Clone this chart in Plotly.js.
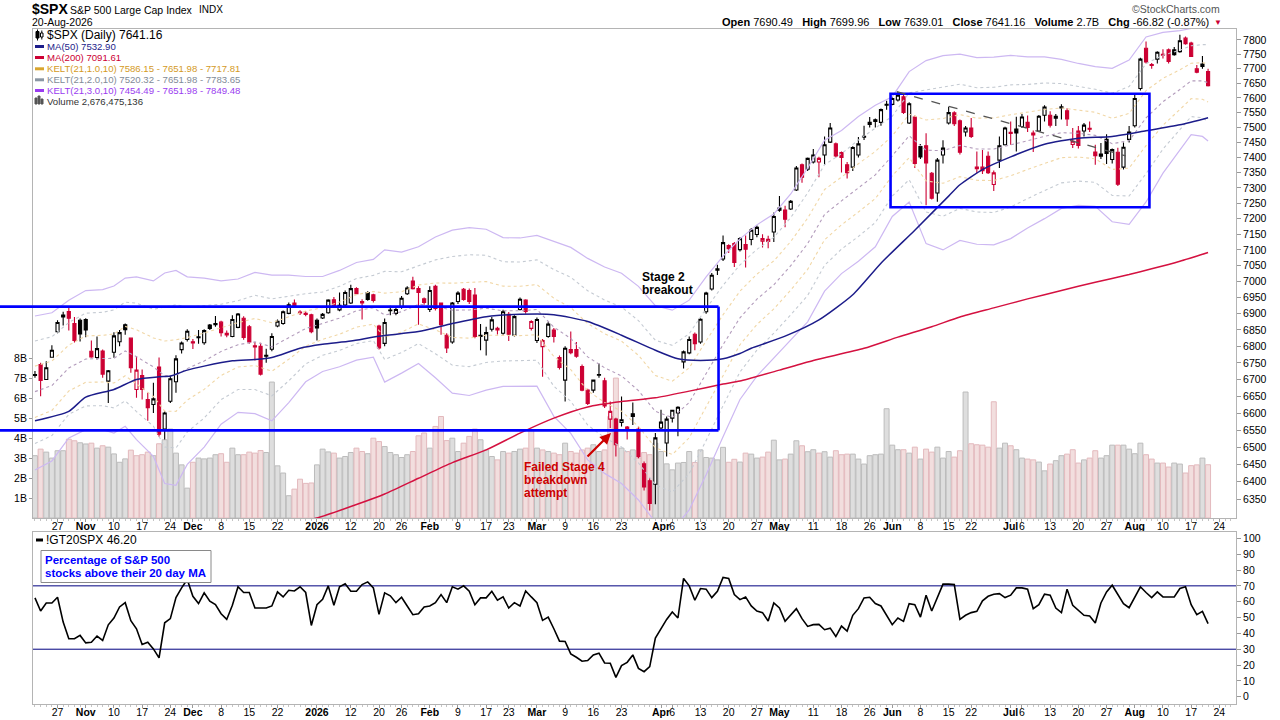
<!DOCTYPE html>
<html>
<head>
<meta charset="utf-8">
<script src="https://cdn.plot.ly/plotly-3.0.1.min.js"></script>
<style>
html,body{margin:0;padding:0;background:#fff;}
#chart{width:1280px;height:720px;}
</style>
</head>
<body>
<div id="chart"></div>
<script>
// ---------------- DATA ----------------
// Daily OHLC of $SPX, one value per trading day from 2025-10-21 to 2026-08-20
const openP = [
6712,6745,6700,6767,6845,6896,6907,6870,6880,6882,
6785,6766,6786,6695,6782,6814,6866,6825,6670,6712,
6640,6625,6737,6553,6635,6693,6790,6821,6814,6826,
6811,6865,6870,6874,6840,6830,6858,6886,6860,6802,
6800,6770,6791,6862,6870,6901,6933,6905,6901,6897,
6880,6887,6903,6943,6912,6927,6933,6978,6938,6966,
6959,6862,6809,6909,6901,6922,6962,7002,6978,6946,
6913,6985,6933,6834,6813,6938,6976,6972,6958,6830,
6819,6852,6855,6840,6898,6834,6913,6942,6855,6818,
6799,6830,6850,6766,6698,6790,6790,6739,6668,6668,
6713,6696,6582,6582,6572,6554,6598,6553,6452,6403,
6393,6556,6512,6585,6600,6753,6780,6837,6813,6906,
6977,7036,7071,7114,7120,7101,7117,7133,7149,7128,
7134,7157,7234,7228,7231,7293,7376,7361,7385,7385,
7408,7451,7445,7416,7376,7368,7408,7467,7510,7526,
7517,7575,7578,7593,7604,7515,7535,7436,7439,7348,
7283,7408,7515,7549,7522,7485,7498,7368,7368,7404,
7311,7391,7442,7484,7495,7503,7517,7475,7488,7541,
7541,7531,7566,7556,7443,7488,7488,7497,7418,7404,
7460,7393,7417,7368,7460,7506,7632,7771,7714,7733,
7750,7765,7765,7759,7806,7789,7700,7716,7690.49];
const highP = [
6725,6750,6755,6803,6880,6906,6919,6890,6885,6886,
6818,6830,6790,6728,6843,6850,6870,6827,6770,6730,
6660,6690,6766,6605,6710,6773,6815,6852,6822,6850,
6852,6868,6893,6878,6848,6895,6902,6892,6865,6813,
6811,6793,6840,6882,6910,6935,6944,6911,6908,6900,
6885,6902,6945,6952,6966,6972,6990,6982,6945,6970,
6962,6866,6885,6925,6920,6955,6985,7015,6985,6950,
6985,6990,6935,6840,6936,6970,6980,6978,6980,6868,
6860,6890,6860,6912,6905,6895,6950,6945,6880,6888,
6822,6875,6856,6772,6800,6845,6813,6745,6672,6700,
6748,6705,6634,6586,6649,6562,6631,6560,6458,6410,
6541,6610,6590,6610,6620,6787,6830,6842,6886,6968,
7027,7053,7146,7118,7125,7140,7146,7170,7178,7150,
7145,7220,7273,7242,7260,7372,7380,7400,7428,7402,
7470,7515,7450,7420,7385,7437,7468,7506,7535,7530,
7564,7590,7602,7621,7610,7585,7540,7445,7481,7352,
7398,7457,7570,7555,7527,7505,7532,7420,7425,7420,
7357,7470,7502,7520,7536,7545,7540,7490,7542,7575,
7555,7545,7578,7565,7498,7505,7515,7520,7442,7448,
7477,7430,7432,7450,7505,7615,7738,7794,7720,7760,
7767,7770,7775,7818,7812,7793,7713,7744,7699.96];
const lowP = [
6705,6650,6698,6765,6840,6864,6848,6812,6815,6828,
6765,6760,6705,6630,6765,6800,6835,6720,6645,6640,
6577,6600,6530,6522,6630,6660,6778,6815,6792,6808,
6805,6850,6860,6830,6828,6828,6855,6820,6808,6757,
6712,6750,6785,6858,6866,6898,6920,6896,6892,6840,
6818,6884,6900,6918,6908,6922,6930,6958,6882,6940,
6935,6790,6800,6895,6895,6915,6958,6975,6866,6928,
6905,6910,6835,6780,6808,6930,6940,6930,6825,6788,
6772,6845,6836,6835,6816,6830,6910,6900,6848,6810,
6708,6826,6812,6730,6634,6776,6765,6665,6624,6660,
6705,6615,6556,6473,6560,6522,6565,6468,6375,6318,
6336,6552,6473,6572,6532,6733,6776,6788,6808,6900,
6972,7021,7065,7090,7046,7095,7044,7115,7140,7108,
7105,7125,7222,7172,7228,7290,7317,7355,7380,7335,
7376,7448,7400,7350,7331,7355,7400,7458,7500,7500,
7506,7560,7575,7588,7545,7512,7365,7395,7243,7262,
7255,7380,7510,7505,7410,7470,7465,7348,7345,7345,
7290,7365,7440,7442,7420,7498,7485,7418,7485,7520,
7500,7505,7527,7505,7431,7430,7470,7485,7376,7395,
7378,7380,7306,7360,7450,7500,7625,7718,7700,7718,
7735,7718,7745,7755,7783,7740,7684,7700,7639.01];
const closeP = [
6715,6697,6735,6788,6873,6890,6886,6818,6838,6850,
6768,6793,6716,6726,6832,6842,6851,6735,6728,6670,
6616,6642,6538,6600,6702,6762,6810,6846,6810,6829,
6848,6855,6866,6842,6835,6882,6899,6827,6813,6798,
6716,6773,6830,6877,6906,6928,6924,6902,6898,6845,
6856,6898,6942,6925,6926,6966,6978,6962,6933,6944,
6941,6795,6873,6911,6913,6948,6980,6978,6966,6935,
6972,6916,6866,6795,6933,6964,6944,6938,6830,6834,
6842,6881,6850,6906,6837,6891,6945,6907,6876,6882,
6818,6868,6830,6736,6794,6781,6770,6668,6628,6698,
6715,6621,6605,6507,6580,6559,6590,6472,6385,6338,
6527,6573,6582,6608,6617,6783,6821,6808,6883,6964,
7020,7040,7123,7104,7060,7136,7102,7163,7172,7136,
7127,7207,7227,7198,7256,7365,7335,7397,7408,7397,
7442,7498,7405,7400,7350,7433,7445,7470,7517,7520,
7560,7578,7598,7609,7551,7580,7380,7402,7382,7266,
7391,7431,7550,7513,7417,7498,7470,7363,7356,7350,
7349,7439,7498,7480,7482,7535,7500,7481,7538,7569,
7508,7538,7570,7529,7454,7440,7508,7494,7406,7411,
7413,7426,7312,7434,7485,7598,7733,7723,7711,7757,
7747,7725,7748,7797,7787,7742,7688,7707.98,7641.16];
// Daily volume in billions of shares
const volumeB = [
3.13,3.46,3.31,3.01,3.38,3.38,3.96,3.88,3.78,3.72,
3.76,3.51,3.63,3.56,3.22,2.80,2.97,3.41,3.13,3.18,
3.31,3.13,3.73,3.93,4.47,3.26,2.67,1.50,2.80,3.01,
2.97,3.01,3.18,3.23,2.80,3.51,3.18,3.18,3.31,3.26,
3.39,3.29,6.83,2.62,2.26,1.12,1.45,1.95,1.74,1.76,
2.67,3.46,3.32,3.26,3.01,3.09,3.29,3.51,3.34,3.23,
4.01,3.84,3.59,3.29,3.18,3.04,3.18,3.34,4.13,4.27,
3.51,4.60,5.10,3.89,4.01,3.34,3.76,4.10,4.47,3.93,
3.42,3.09,2.92,3.34,3.26,3.34,3.46,3.51,4.43,3.51,
3.42,3.34,3.26,3.18,3.76,3.34,3.26,3.42,3.51,3.68,
3.34,3.42,5.10,7.03,3.51,3.34,3.42,3.01,3.29,3.18,
3.76,3.34,2.72,2.42,2.76,2.79,3.34,2.79,3.42,3.04,
3.01,2.92,3.55,2.80,2.95,2.81,3.26,3.21,3.01,3.06,
3.31,3.91,2.92,2.96,3.21,3.88,3.63,3.33,3.43,3.26,
3.33,3.06,3.38,3.18,3.21,3.21,2.96,2.71,3.13,3.18,
3.21,5.49,3.66,3.43,3.43,3.26,3.56,2.96,3.46,3.31,
3.56,3.01,3.34,3.06,3.38,6.33,3.73,3.68,3.66,3.56,
5.84,3.51,3.76,3.63,3.43,3.01,2.96,2.92,2.81,2.37,
2.71,2.88,3.13,3.21,3.43,2.76,2.92,3.01,3.38,3.01,
3.13,3.66,3.66,3.66,3.46,3.23,3.76,3.18,2.96,2.76,
2.76,2.56,2.76,2.71,2.26,2.63,2.67,3.01,2.676];
// !GT20SPX : % of S&P 500 stocks above their 20 day MA
const gt20 = [
62.4,54.1,59.2,59.2,62.8,47.1,36.6,36.6,38.7,34.0,
34.4,38.3,35.5,45.4,49.7,56.7,59.4,48.0,42.9,33.0,
34.4,30.2,24.5,46.7,49.3,62.6,68.7,74.0,63.4,58.8,
65.6,60.3,58.1,52.4,48.8,57.7,69.4,65.8,65.8,56.0,
56.0,56.0,57.3,66.2,63.0,67.2,66.8,69.4,65.8,45.0,
58.1,61.5,70.0,57.7,69.4,71.3,66.6,66.6,70.8,72.5,
68.7,52.0,65.6,63.7,59.4,62.8,57.3,51.8,52.4,56.7,
57.3,59.4,64.5,59.4,69.4,67.9,70.0,66.6,58.1,62.4,
62.4,66.6,60.9,63.0,56.0,59.4,57.3,66.8,63.0,59.4,
48.2,50.3,42.9,35.1,34.9,27.0,24.9,22.4,22.8,26.4,
27.5,21.3,21.1,12.2,19.6,21.7,26.4,17.9,15.8,19.0,
37.0,42.9,48.8,53.5,49.7,74.7,70.0,60.9,68.3,67.9,
62.6,66.6,75.3,74.7,64.5,61.3,63.0,57.3,54.1,53.1,
47.8,59.2,56.0,47.6,51.8,55.6,49.3,44.4,45.5,45.7,
42.3,43.3,38.0,44.6,41.4,51.4,55.6,62.4,62.8,58.8,
57.3,51.4,45.5,49.7,47.6,58.8,58.1,50.3,64.1,54.1,
63.0,71.1,71.1,70.8,48.8,51.4,53.1,53.9,60.5,63.4,
64.7,65.1,62.6,64.1,68.7,68.7,67.9,55.6,58.1,64.7,
64.1,56.0,53.1,67.9,57.7,54.6,51.4,51.0,46.5,59.2,
66.2,70.4,64.7,58.8,56.2,62.4,69.4,65.8,62.6,66.2,
63.0,63.0,63.0,68.3,69.4,58.1,51.8,53.9,46.2];
// Moving averages, read at sample trading-day indices
const ma50Idx = [0,6,9,14,18,22,24,27,30,35,39,42,47,51,56,61,68,74,80,86,92,98,104,110,114,118,122,125,127,133,139,145,150,156,162,164,168,173,179,185,191,197,203,208];
const ma50Val = [6577,6605,6647,6670,6700,6708,6710,6728,6740,6756,6760,6766,6794,6806,6816,6831,6845,6870,6891,6898,6897,6876,6834,6788,6762,6757,6762,6778,6794,6831,6881,6959,7058,7163,7273,7310,7360,7402,7444,7464,7470,7489,7509,7532.90];
const ma200Idx = [46,50,57,62,68,74,80,86,92,98,104,110,116,122,125,132,138,147,153,159,164,170,176,182,188,194,198,203,208];
const ma200Val = [6284,6297,6335,6365,6410,6455,6492,6541,6585,6618,6634,6645,6665,6686,6695,6728,6757,6794,6828,6860,6890,6918,6946,6972,6998,7022,7040,7064,7091.61];
// Keltner channel KELT(21,3.0,10) outer bands, read at sample indices
const keltIdx = [0,3,6,9,12,14,16,18,21,23,25,27,30,33,36,39,42,45,48,51,54,57,60,62,65,68,71,74,77,80,83,86,89,92,95,98,101,104,107,110,113,116,119,122,125,128,131,134,137,140,143,146,149,152,155,158,161,164,167,170,173,176,179,182,185,188,191,194,197,200,203,205,207,208];
const kelt3Upper = [6893,6903,6942,6972,6975,6986,7011,7015,7002,7027,7035,7015,7011,7002,7008,7029,7020,7020,7016,7016,7035,7060,7070,7100,7093,7110,7141,7163,7171,7166,7139,7138,7146,7127,7108,7073,7046,7026,6985,6925,6911,6942,7015,7080,7135,7180,7215,7280,7365,7457,7490,7537,7575,7604,7690,7728,7745,7750,7738,7740,7746,7741,7741,7732,7718,7707,7701,7730,7810,7826,7832,7840,7846,7849.48];
const kelt3Lower = [6434,6460,6527,6551,6551,6541,6561,6522,6473,6395,6390,6450,6500,6567,6602,6598,6577,6631,6693,6724,6738,6758,6767,6692,6719,6748,6705,6659,6652,6668,6679,6680,6680,6590,6540,6463,6424,6395,6348,6285,6262,6320,6420,6530,6640,6710,6765,6820,6875,6970,7025,7064,7110,7207,7254,7120,7100,7130,7118,7116,7136,7170,7200,7233,7243,7240,7190,7182,7254,7348,7425,7476,7470,7454.49];
// Axis ticks
const tickDates = ['2025-10-27','2025-11-03','2025-11-10','2025-11-17','2025-11-24','2025-12-01','2025-12-08','2025-12-15','2025-12-22','2026-01-02','2026-01-12','2026-01-20','2026-01-26','2026-02-02','2026-02-09','2026-02-17','2026-02-23','2026-03-02','2026-03-09','2026-03-16','2026-03-23','2026-04-01','2026-04-06','2026-04-13','2026-04-20','2026-04-27','2026-05-01','2026-05-11','2026-05-18','2026-05-26','2026-06-01','2026-06-08','2026-06-15','2026-06-22','2026-07-01','2026-07-06','2026-07-13','2026-07-20','2026-07-27','2026-08-03','2026-08-10','2026-08-17','2026-08-24'];
const tickText = ['27','Nov','10','17','24','Dec','8','15','22','2026','12','20','26','Feb','9','17','23','Mar','9','16','23','Apr','6','13','20','27','May','11','18','26','Jun','8','15','22','Jul','6','13','20','27','Aug','10','17','24'];
const priceTicks = [6350,6400,6450,6500,6550,6600,6650,6700,6750,6800,6850,6900,6950,7000,7050,7100,7150,7200,7250,7300,7350,7400,7450,7500,7550,7600,7650,7700,7750,7800];
const volTicks = [1,2,3,4,5,6,7,8];
const volTickText = ['1B','2B','3B','4B','5B','6B','7B','8B'];
const gtTicks = [0,10,20,30,40,50,60,70,80,90,100];
const marketHolidays = ['2025-11-27','2025-12-25','2026-01-01','2026-01-19','2026-02-16','2026-04-03','2026-05-25','2026-06-19','2026-07-03'];

// ---------------- helpers ----------------
function tradingDays(startISO, endISO, closed) {
  const out = [];
  const d = new Date(startISO + 'T00:00:00Z');
  const end = new Date(endISO + 'T00:00:00Z');
  while (d <= end) {
    const wd = d.getUTCDay();
    const iso = d.toISOString().slice(0, 10);
    if (wd !== 0 && wd !== 6 && closed.indexOf(iso) < 0) out.push(iso);
    d.setUTCDate(d.getUTCDate() + 1);
  }
  return out;
}
const calendar = tradingDays('2025-10-21', '2026-08-28', marketHolidays);
const tickIdx = tickDates.map(d => calendar.indexOf(d));
const days = closeP.map((_, i) => i);

const X_RANGE = [-0.35, 212.95];
const PRICE_RANGE = [Math.log10(6297), Math.log10(7838)];
const VOL_RANGE = [0, 24.57];
const GT_RANGE = [-4.6, 104];
const MAIN_DOM = [0.27556, 1];
const LOW_DOM = [0, 0.25481];
const PL = 33, PR = 1236, PT = 29, PB = 704;
const pxX = px => (px - PL) / (PR - PL);
const pxY = py => (PB - py) / (PB - PT);
const idxPaper = i => (i - X_RANGE[0]) / (X_RANGE[1] - X_RANGE[0]);
const pricePaper = p => MAIN_DOM[0] + (MAIN_DOM[1] - MAIN_DOM[0]) * (Math.log10(p) - PRICE_RANGE[0]) / (PRICE_RANGE[1] - PRICE_RANGE[0]);

// direction vs previous close (StockCharts colouring)
const upDay = closeP.map((c, i) => i === 0 ? true : c >= closeP[i - 1]);
function pick(arr, cond) { return arr.filter((_, i) => upDay[i] === cond); }

const RED = '#cc0033';
const traces = [];

// volume
traces.push({
  type: 'bar', x: days, y: volumeB, xaxis: 'x', yaxis: 'y',
  marker: {
    color: upDay.map(u => u ? '#dedede' : '#f2dede'),
    line: { color: upDay.map(u => u ? '#bcbcbc' : '#e3b9bd'), width: 1 }
  },
  hoverinfo: 'skip'
});

// Keltner channels (derived from the outer 3 ATR bands: mid = centre, ATR = width/6)
const kMid = kelt3Upper.map((u, i) => (u + kelt3Lower[i]) / 2);
const kAtr = kelt3Upper.map((u, i) => (u - kelt3Lower[i]) / 6);
function band(mult) { return kMid.map((m, i) => m + mult * kAtr[i]); }
const bandStyle = [
  { m: 1, color: '#f1d7a6', dash: 'dot', w: 1.1 },
  { m: -1, color: '#f1d7a6', dash: 'dot', w: 1.1 },
  { m: 2, color: '#c5cbd3', dash: 'dot', w: 1.1 },
  { m: -2, color: '#c5cbd3', dash: 'dot', w: 1.1 },
  { m: 3, color: '#cdb8f2', dash: 'solid', w: 1.2 },
  { m: -3, color: '#cdb8f2', dash: 'solid', w: 1.2 },
  { m: 0, color: '#b39cbc', dash: 'dot', w: 1.1 }
];
bandStyle.forEach(s => {
  traces.push({
    type: 'scatter', mode: 'lines', x: keltIdx, y: band(s.m), xaxis: 'x', yaxis: 'y2',
    line: { color: s.color, width: s.w, dash: s.dash }, hoverinfo: 'skip'
  });
});

// moving averages
traces.push({ type: 'scatter', mode: 'lines', x: ma200Idx, y: ma200Val, xaxis: 'x', yaxis: 'y2',
  line: { color: '#d41140', width: 1.5, shape: 'spline', smoothing: 0.6 }, hoverinfo: 'skip' });
traces.push({ type: 'scatter', mode: 'lines', x: ma50Idx, y: ma50Val, xaxis: 'x', yaxis: 'y2',
  line: { color: '#1c1c8a', width: 1.5, shape: 'spline', smoothing: 0.6 }, hoverinfo: 'skip' });

// candlesticks: black = close above previous close, red = below
function candle(cond, col) {
  return {
    type: 'candlestick', xaxis: 'x', yaxis: 'y2',
    x: pick(days, cond), open: pick(openP, cond), high: pick(highP, cond),
    low: pick(lowP, cond), close: pick(closeP, cond),
    increasing: { line: { color: col, width: 1.1 }, fillcolor: '#ffffff' },
    decreasing: { line: { color: col, width: 1.1 }, fillcolor: col },
    whiskerwidth: 0, hoverinfo: 'skip'
  };
}
traces.push(candle(true, '#000000'));
traces.push(candle(false, RED));

// breadth line
traces.push({ type: 'scatter', mode: 'lines', x: days, y: gt20, xaxis: 'x2', yaxis: 'y3',
  line: { color: '#000', width: 1.6 }, hoverinfo: 'skip' });

// ---------------- shapes ----------------
const BLUE = '#0000ff';
const shapes = [];
// consolidation box 1 (extends past the left edge)
const b1Right = idxPaper(121.2), b1Top = pricePaper(6922), b1Bot = pricePaper(6549);
shapes.push({ type: 'line', xref: 'paper', yref: 'paper', x0: pxX(0), x1: b1Right, y0: b1Top, y1: b1Top, line: { color: BLUE, width: 2.6 } });
shapes.push({ type: 'line', xref: 'paper', yref: 'paper', x0: pxX(0), x1: b1Right, y0: b1Bot, y1: b1Bot, line: { color: BLUE, width: 2.6 } });
shapes.push({ type: 'line', xref: 'paper', yref: 'paper', x0: b1Right, x1: b1Right, y0: b1Bot, y1: b1Top, line: { color: BLUE, width: 2.6 } });
// consolidation box 2
shapes.push({ type: 'rect', xref: 'x', yref: 'paper', x0: 151.7, x1: 197.6, y0: pricePaper(7237), y1: pricePaper(7614), line: { color: BLUE, width: 2.6 } });
// dashed trend line
shapes.push({ type: 'line', xref: 'x', yref: 'paper', x0: 152.8, x1: 193.4, y0: pricePaper(7621), y1: pricePaper(7405), line: { color: '#555', width: 1.3, dash: 'dash' } });
// 70 / 30 lines
[70, 30].forEach(v => shapes.push({ type: 'line', xref: 'paper', yref: 'y3', x0: 0, x1: 1, y0: v, y1: v, layer: 'below', line: { color: '#000080', width: 1 } }));
// legend icons
function dash(py, col, x0, x1) { shapes.push({ type: 'line', xref: 'paper', yref: 'paper', x0: pxX(x0 || 35), x1: pxX(x1 || 44), y0: pxY(py), y1: pxY(py), line: { color: col, width: 3 } }); }
function rect(x0, y0, x1, y1, fill, lc) { shapes.push({ type: 'rect', xref: 'paper', yref: 'paper', x0: pxX(x0), x1: pxX(x1), y0: pxY(y1), y1: pxY(y0), fillcolor: fill, line: { color: lc || fill, width: 1 } }); }
function vline(x, y0, y1, col) { shapes.push({ type: 'line', xref: 'paper', yref: 'paper', x0: pxX(x), x1: pxX(x), y0: pxY(y1), y1: pxY(y0), line: { color: col, width: 1 } }); }
vline(37.5, 29.5, 40.5, '#000'); rect(36, 31.5, 39, 38, '#000');
vline(41.8, 30.5, 39.5, '#000'); rect(40.5, 33, 43, 37, '#fff', '#000');
dash(46.5, '#1c1c8a'); dash(57.5, RED); dash(68.8, '#d9a52e'); dash(79.8, '#8a96a3'); dash(90.5, '#9a3cf0');
rect(35, 98, 37, 104, '#555'); rect(38, 96, 40, 104, '#555'); rect(41, 99, 43, 104, '#555');
dash(540, '#000', 36, 43);
// annotation box in the lower panel
shapes.push({ type: 'rect', xref: 'paper', yref: 'paper', x0: pxX(41), x1: pxX(211), y0: pxY(582.5), y1: pxY(550.5), fillcolor: '#fff', line: { color: '#8a8a8a', width: 1 } });

// ---------------- annotations ----------------
const annotations = [];
function txt(text, px, py, opts) {
  opts = opts || {};
  annotations.push({
    text: text, xref: 'paper', yref: 'paper', x: pxX(px), y: pxY(py),
    xanchor: opts.anchor || 'left', yanchor: 'middle', showarrow: false, align: opts.align || 'left',
    font: { family: opts.family || 'Liberation Sans, Arial, sans-serif', size: opts.size || 10, color: opts.color || '#000' },
    borderpad: 0
  });
}
const last = closeP.length - 1;
// header
txt('<b>$SPX</b>', 31, 9.5, { size: 14 });
txt('S&amp;P 500 Large Cap Index', 69, 10, { size: 10.5 });
txt('INDX', 198, 10, { size: 10 });
txt('20-Aug-2026', 31, 22.5, { size: 10.5 });
txt('©StockCharts.com', 1221, 9, { size: 10.5, color: '#555', anchor: 'right' });
const chg = closeP[last] - closeP[last - 1];
txt('<b>Open</b> ' + openP[last].toFixed(2) + '&nbsp;&nbsp; <b>High</b> ' + highP[last].toFixed(2) +
    '&nbsp;&nbsp; <b>Low</b> ' + lowP[last].toFixed(2) + '&nbsp;&nbsp; <b>Close</b> ' + closeP[last].toFixed(2) +
    '&nbsp;&nbsp; <b>Volume</b> 2.7B&nbsp;&nbsp; <b>Chg</b> ' + chg.toFixed(2) + ' (' + (100 * chg / closeP[last - 1]).toFixed(2) + '%)',
    1210, 22.5, { size: 11, anchor: 'right' });
txt('▼', 1213, 22, { size: 8, color: RED });
// price legend
txt('$SPX (Daily) ' + closeP[last].toFixed(2), 45.5, 35, { size: 12 });
txt('MA(50) 7532.90', 45.5, 46.5, { size: 9.6, color: '#1c1c8a' });
txt('MA(200) 7091.61', 45.5, 57.5, { size: 9.6, color: RED });
txt('KELT(21,1.0,10) 7586.15 - 7651.98 - 7717.81', 45.5, 68.8, { size: 9.6, color: '#d49a1e' });
txt('KELT(21,2.0,10) 7520.32 - 7651.98 - 7783.65', 45.5, 79.8, { size: 9.6, color: '#7f8b97' });
txt('KELT(21,3.0,10) 7454.49 - 7651.98 - 7849.48', 45.5, 90.5, { size: 9.6, color: '#9a3cf0' });
txt('Volume 2,676,475,136', 45.5, 101, { size: 9.6, color: '#333' });
// lower legend
txt('!GT20SPX ' + gt20[last].toFixed(2), 45, 540, { size: 12 });
txt('<b>Percentage of S&amp;P 500</b>', 44, 559.5, { size: 11.5, color: BLUE });
txt('<b>stocks above their 20 day MA</b>', 44, 572.5, { size: 11.5, color: BLUE });
// chart notes
txt('<b>Stage 2</b>', 641, 277, { size: 12 });
txt('<b>breakout</b>', 641, 289.5, { size: 12 });
txt('<b>Failed Stage 4</b>', 523, 466.5, { size: 12, color: '#cc0000' });
txt('<b>breakdown</b>', 523, 479.5, { size: 12, color: '#cc0000' });
txt('<b>attempt</b>', 523, 492.5, { size: 12, color: '#cc0000' });
annotations.push({ text: '', xref: 'paper', yref: 'paper', x: pxX(611), y: pxY(433), ax: -25, ay: 25,
  showarrow: true, arrowhead: 2, arrowsize: 1, arrowwidth: 2.2, arrowcolor: '#cc0000', standoff: 0 });

// ---------------- layout ----------------
const tickLabels = tickText.map(t => /[A-Za-z]/.test(t) || t.length === 4 ? '<b>' + t + '</b>' : t);
const xCommon = {
  range: X_RANGE, tickmode: 'array', tickvals: tickIdx, ticktext: tickLabels, tickangle: 0, ticklabelstandoff: -5,
  ticks: 'outside', ticklen: 3, tickcolor: '#999', showline: true, mirror: true, linecolor: '#b4b4b4',
  showgrid: false, zeroline: false, fixedrange: true,
  tickfont: { family: 'Liberation Sans, Arial, sans-serif', size: 10.5, color: '#000' },
  minor: { tickmode: 'linear', tick0: 0, dtick: 1, ticks: 'outside', ticklen: 2, tickcolor: '#c4c4c4', showgrid: false }
};
const layout = {
  width: 1280, height: 720, margin: { l: PL, r: 1280 - PR, t: PT, b: 720 - PB, pad: 0 },
  paper_bgcolor: '#fff', plot_bgcolor: '#fff', showlegend: false, hovermode: false, dragmode: false,
  boxgap: 0.22, bargap: 0.12,
  font: { family: 'Liberation Sans, Arial, sans-serif', size: 10.5, color: '#000' },
  xaxis: Object.assign({}, xCommon, { anchor: 'y', domain: [0, 1], rangeslider: { visible: false } }),
  xaxis2: Object.assign({}, xCommon, { anchor: 'y3', domain: [0, 1], matches: 'x' }),
  yaxis: {
    domain: MAIN_DOM, range: VOL_RANGE, side: 'left', anchor: 'x', tickmode: 'array', tickvals: volTicks, ticktext: volTickText,
    ticks: 'outside', ticklen: 3, tickcolor: '#999', showline: true, mirror: true, linecolor: '#b4b4b4',
    showgrid: false, zeroline: false, fixedrange: true, tickfont: { size: 10.5 }
  },
  yaxis2: {
    overlaying: 'y', side: 'right', anchor: 'x', type: 'log', range: PRICE_RANGE, tickmode: 'array', tickvals: priceTicks,
    ticktext: priceTicks.map(String), ticks: 'outside', ticklen: 4, tickcolor: '#999', showgrid: false, zeroline: false,
    showline: false, fixedrange: true, tickfont: { size: 10.5 }
  },
  yaxis3: {
    domain: LOW_DOM, range: GT_RANGE, side: 'right', anchor: 'x2', tickmode: 'array', tickvals: gtTicks,
    ticks: 'outside', ticklen: 4, tickcolor: '#999', showline: true, mirror: true, linecolor: '#b4b4b4',
    showgrid: false, zeroline: false, fixedrange: true, tickfont: { size: 10.5 }
  },
  shapes: shapes, annotations: annotations
};
Plotly.newPlot('chart', traces, layout, { staticPlot: true, displayModeBar: false });
</script>
</body>
</html>
